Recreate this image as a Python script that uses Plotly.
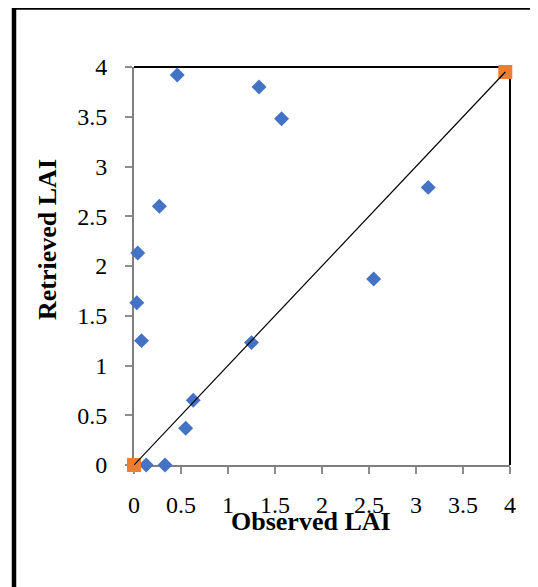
import plotly.graph_objects as go

# Data
observed = [0.46, 1.33, 1.57, 0.27, 0.04, 0.03, 0.08, 1.25, 0.63, 0.55, 0.13, 0.33, 3.13, 2.55]
retrieved = [3.92, 3.80, 3.48, 2.60, 2.13, 1.63, 1.25, 1.23, 0.65, 0.37, 0.0, 0.0, 2.79, 1.87]
line_x = [0, 3.95]
line_y = [0, 3.95]
tick_vals = [0, 0.5, 1, 1.5, 2, 2.5, 3, 3.5, 4]
tick_text = ["0", "0.5", "1", "1.5", "2", "2.5", "3", "3.5", "4"]

FONT = "Liberation Serif, Times New Roman, serif"

fig = go.Figure()
fig.add_trace(go.Scatter(x=observed, y=retrieved, mode="markers",
                         marker=dict(symbol="diamond", size=11.5, color="#4472C4"),
                         cliponaxis=False, showlegend=False))
fig.add_trace(go.Scatter(x=line_x, y=line_y, mode="markers",
                         marker=dict(symbol="square", size=14, color="#ED7D31"),
                         cliponaxis=False, showlegend=False))
fig.add_trace(go.Scatter(x=line_x, y=line_y, mode="lines",
                         line=dict(color="black", width=1.2),
                         cliponaxis=False, showlegend=False))

axis_common = dict(range=[0, 4], tickvals=tick_vals, ticktext=tick_text,
                   showgrid=False, zeroline=False, showline=True,
                   linecolor="#7f7f7f", linewidth=2, ticks="outside",
                   ticklen=7, tickcolor="#8c8c8c", tickwidth=1.5,
                   tickfont=dict(family=FONT, size=24, color="black"),
                   layer="below traces", fixedrange=True)

fig.update_xaxes(**axis_common, ticklabelstandoff=10)
fig.update_yaxes(**axis_common, ticklabelstandoff=13)

fig.update_layout(
    width=530, height=579,
    margin=dict(l=126, r=28, t=59, b=122),
    plot_bgcolor="white", paper_bgcolor="white",
    shapes=[
        dict(type="line", xref="paper", yref="paper", x0=0, x1=1, y0=1, y1=1,
             line=dict(color="black", width=2), layer="below"),
        dict(type="line", xref="paper", yref="paper", x0=1, x1=1, y0=0, y1=1,
             line=dict(color="black", width=2), layer="below"),
        dict(type="rect", xref="paper", yref="paper",
             x0=(14 - 134) / 376, x1=(560 - 134) / 376,
             y0=(465 - 620) / 398, y1=(465 - 7.5) / 398,
             line=dict(color="black", width=4.5), layer="above"),
    ],
    annotations=[
        dict(text="<b>Observed LAI</b>", xref="paper", yref="paper",
             x=(311 - 134) / 376, y=(465 - 521) / 398,
             xanchor="center", yanchor="middle", showarrow=False,
             font=dict(family=FONT, size=26, color="black")),
        dict(text="<b>Retrieved LAI</b>", xref="paper", yref="paper",
             x=(47 - 134) / 376, y=(465 - 240) / 398,
             xanchor="center", yanchor="middle", showarrow=False, textangle=-90,
             font=dict(family=FONT, size=26, color="black")),
    ],
)

fig.write_html("out.html")
